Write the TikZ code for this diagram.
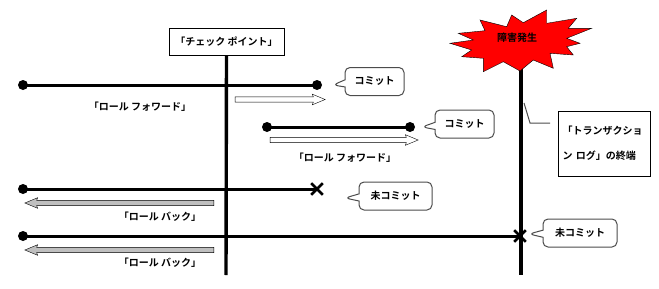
\documentclass[tikz,border=0pt]{standalone}
\usepackage{fontspec}
\newfontfamily\jp{Noto Sans CJK JP}[BoldFont={Noto Sans CJK JP Bold}]
\usetikzlibrary{shapes.arrows, shapes.callouts, shapes.misc, positioning}
\tikzset{
    jptext/.style={font=\jp\bfseries\fontsize{10}{11}\selectfont},
    block/.style={rectangle, draw=black, fill=white, thin, inner sep=4pt, jptext},
    dot/.style={circle, fill=black, inner sep=0pt, minimum size=10pt},
    cross/.style={cross out, draw=black, line width=2.6pt, minimum size=9pt, inner sep=0pt},
    timeline/.style={line width=3pt},
    fwd/.style={single arrow, draw=black, fill=white, thin, inner xsep=0pt, inner ysep=2.4pt, single arrow head extend=2.7pt, single arrow tip angle=45, single arrow head indent=1pt},
    back/.style={fwd, fill=gray!50, shape border rotate=180},
    bubble/.style={rectangle callout, rounded corners=5pt, draw=gray!60!black, fill=white, line width=1pt, minimum height=28pt, jptext}
}
\begin{document}
\begin{tikzpicture}[x=1pt, y=-1pt]
    \useasboundingbox (0,0) rectangle (659,289);
    % checkpoint and failure
    \node (check) [block, minimum width=115pt, minimum height=27pt] at (226.5,41.5) {「チェック ポイント」};
    \coordinate (checkEnd) at (226,275);
    \coordinate (failTop) at (521,62);
    \coordinate (failEnd) at (521,275);
    \draw [line width=3.4pt] (check.south) -- (checkEnd);
    \draw [line width=3.4pt] (failTop) -- (failEnd);
    \draw [draw=black, thin, fill=red] (458.3,33.3) -- (485,30.7) -- (480,20) -- (506.7,26.7) -- (511.7,15)
        -- (523.3,22.7) -- (546.7,10) -- (546.7,23.3) -- (576.7,18.3) -- (568.3,28.3) -- (591.7,28.3)
        -- (566.7,38.3) -- (580,43.3) -- (566.7,46.7) -- (573.3,55) -- (550,53.3) -- (553.3,68.3)
        -- (533.3,60) -- (520,71) -- (503.3,61.7) -- (483.3,71.7) -- (483.3,58.3) -- (461.7,56.7)
        -- (471.7,50) -- (450,43.3) -- (473.3,40) -- cycle;
    \node (burst) [jptext] at (517,38) {障害発生};
    \node (trans) [block, text width=84pt, minimum height=65pt, align=left, font=\jp\bfseries\fontsize{10}{25}\selectfont] at (604.5,143.5) {「トランザクショ\\ン ログ」の終端};
    \coordinate (transA) at (550,123);
    \coordinate (transB) at (530,123);
    \coordinate (transC) at (524,103);
    \draw [gray!60!black, line width=1pt] (transA) -- (transB) -- (transC);
    % timelines
    \node (d1a) [dot] at (23,85) {};
    \node (d1b) [dot] at (317,85) {};
    \node (d2a) [dot] at (267,127) {};
    \node (d2b) [dot] at (410,127) {};
    \node (d3a) [dot] at (23,189) {};
    \node (x3) [cross] at (317,189) {};
    \node (d4a) [dot] at (23,236) {};
    \node (x4) [cross] at (520,236) {};
    \draw [timeline] (d1a.center) -- (d1b.center);
    \draw [timeline] (d2a.center) -- (d2b.center);
    \draw [timeline] (d3a.center) -- (x3.center);
    \draw [timeline] (d4a.center) -- (x4.center);
    % block arrows
    \node (fwd1) [fwd, minimum height=90pt] at (277,99.5) {};
    \node (fwd2) [fwd, minimum height=148pt] at (341,140) {};
    \node (back1) [back, minimum height=189pt] at (122.5,203) {};
    \node (back2) [back, minimum height=189pt] at (122.5,250) {};
    \node (rf1) [jptext] at (140,107) {「ロール フォワード」};
    \node (rf2) [jptext] at (345,158) {「ロール フォワード」};
    \node (rb1) [jptext] at (160,217) {「ロール バック」};
    \node (rb2) [jptext] at (160,263) {「ロール バック」};
    % callouts
    \node (commit1) [bubble, minimum width=59pt, callout absolute pointer={(333,85)}] at (374.5,81.5) {コミット};
    \node (commit2) [bubble, minimum width=59pt, callout absolute pointer={(422,127)}] at (464.5,124) {コミット};
    \node (open1) [bubble, minimum width=73pt, callout absolute pointer={(345,198)}] at (395.5,196) {未コミット};
    \node (open2) [bubble, minimum width=74pt, callout absolute pointer={(529,234)}] at (580,233) {未コミット};
\end{tikzpicture}
\end{document}
